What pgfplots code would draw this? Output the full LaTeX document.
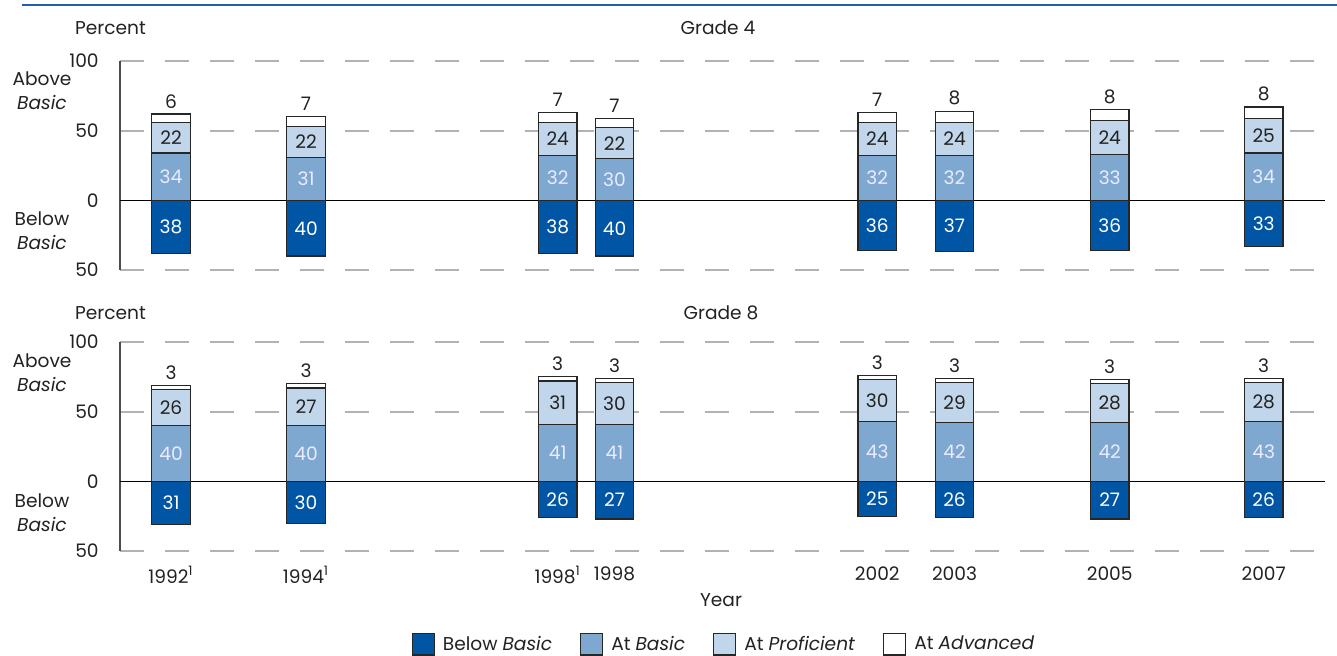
\documentclass[border=0pt]{standalone}
\usepackage{pgfplots}
\pgfplotsset{compat=1.18}
\usepackage{pgfplotstable}
\usepackage{fontspec}
\setmainfont{Poppins}

\definecolor{belowc}{HTML}{0055A4}
\definecolor{basicc}{HTML}{7FA8D1}
\definecolor{profc}{HTML}{C2D6EB}
\definecolor{rulec}{HTML}{1F5FAD}
\definecolor{txt}{HTML}{222222}

% x = bar centre in picture pixels; below is drawn downwards
\pgfplotstableread{
x     below basic prof adv
171   -38   34    22   6
306   -40   31    22   7
557.7 -38   32    24   7
614.5 -40   30    22   7
877.3 -36   32    24   7
954.5 -37   32    24   8
1109.7 -36  33    24   8
1263.7 -33  34    25   8
}\gradefour

\pgfplotstableread{
x     below basic prof adv
171   -31   40    26   3
306   -30   40    27   3
557.7 -26   41    31   3
614.5 -27   41    30   3
877.3 -25   43    30   3
954.5 -26   42    29   3
1109.7 -27  42    28   3
1263.7 -26  43    28   3
}\gradeeight

\pgfplotsset{
  base/.style={
    x=0.5pt, y=0.6967pt,
    xmin=120, xmax=1325, ymin=-50, ymax=100,
    bar width=38.5, clip=false,
    tick style={draw=none},
    every axis plot/.append style={draw=black!85, line width=0.6pt},
    nodes near coords style={font=\fontsize{9.3}{11}\selectfont},
    point meta=explicit symbolic,
    /pgf/number format/assume math mode=true,
  },
  frame/.style={
    base, ybar, bar shift=0pt,
    axis lines=left,
    x axis line style={draw=none},
    y axis line style={-, draw=black!70, line width=0.6pt},
    ytick={-50,50,100}, yticklabels={50,50,100},
    extra y ticks={0}, extra y tick labels={0},
    extra y tick style={grid=major, major grid style={solid, draw=black, line width=0.5pt}},
    ymajorgrids,
    major grid style={draw=black!30, line width=0.9pt, dash pattern=on 12pt off 10.5pt},
    yticklabel style={font=\fontsize{9.3}{11}\selectfont, text=txt, xshift=-5pt},
    xtick=\empty,
  },
  stack/.style={
    base, ybar stacked,
    axis lines=none, xtick=\empty, ytick=\empty,
  },
  % below bars: node sits at the bar's end, move it to the middle
  mid/.style={
    nodes near coords,
    every node near coord/.append style={anchor=center, yshift={-0.34835pt*(\pgfplotspointmeta)}},
  },
  % stacked segments: node already sits in the middle of the segment
  cen/.style={
    nodes near coords,
    every node near coord/.append style={anchor=center},
  },
  top/.style={
    nodes near coords,
    every node near coord/.append style={anchor=south, text=txt, inner sep=2.6pt,
      yshift={0.34835pt*(\pgfplotspointmeta)}},
  },
}

\newcommand{\drawbelow}[1]{%
  \addplot[fill=belowc, mid, nodes near coords style={text=white},
    nodes near coords={\pgfmathparse{abs(\pgfplotspointmeta)}\pgfmathprintnumber{\pgfmathresult}}]
    table[x=x, y=below, meta=below] {#1};
}
\newcommand{\drawabove}[1]{%
  \addplot[fill=basicc, cen, nodes near coords style={text=white!92!blue}]
    table[x=x, y=basic, meta=basic] {#1};
  \addplot[fill=profc, cen, nodes near coords style={text=txt}]
    table[x=x, y=prof, meta=prof] {#1};
  \addplot[fill=white, top]
    table[x=x, y=adv, meta=adv] {#1};
}

\begin{document}
\begin{tikzpicture}
\useasboundingbox (0,0) rectangle (668.5pt,328pt);

% Grade 4
\begin{axis}[frame, at={(60pt,193pt)}, anchor=south west]
\drawbelow{\gradefour}
\end{axis}
\begin{axis}[stack, at={(60pt,193pt)}, anchor=south west]
\drawabove{\gradefour}
\end{axis}

% Grade 8
\begin{axis}[frame, at={(60pt,52.5pt)}, anchor=south west,
  xtick={171,306,557.7,614.5,877.3,954.5,1109.7,1263.7},
  xticklabels={1992\textsuperscript{1},1994\textsuperscript{1},1998\textsuperscript{1},1998,2002,2003,2005,2007},
  xticklabel style={font=\fontsize{9.3}{11}\selectfont, text=txt, yshift=-2pt},
]
\drawbelow{\gradeeight}
\end{axis}
\begin{axis}[stack, at={(60pt,52.5pt)}, anchor=south west,
  legend columns=4,
  legend style={at={(0.502,-0.447)}, anchor=center, draw=none, fill=none,
    font=\fontsize{9.3}{11}\selectfont, text=txt,
    /tikz/every odd column/.append style={column sep=2pt},
    /tikz/every even column/.append style={column sep=12pt}},
  legend image code/.code={\draw[#1, draw=black!85, line width=0.6pt] (0pt,-5.3pt) rectangle (11pt,5.3pt);},
]
\addlegendimage{fill=belowc}
\addlegendentry{Below \textit{Basic}}
\drawabove{\gradeeight}
\addlegendentry{At \textit{Basic}}
\addlegendentry{At \textit{Proficient}}
\addlegendentry{At \textit{Advanced}}
\end{axis}

\begin{scope}[x=0.5pt, y=-0.5pt, shift={(0,328pt)}, font=\fontsize{9.3}{11}\selectfont, text=txt]
  \draw[rulec, line width=1.3pt] (22,5) -- (1337,5);
  \node[anchor=west] at (68,28) {Percent};
  \node at (718,28) {Grade 4};
  \node[anchor=west] at (68,313) {Percent};
  \node at (721,313) {Grade 8};
  \foreach \yy in {0,282} {
    \node[align=center, inner sep=0pt] at (42,91+\yy) {Above\\[0.8pt]\textit{Basic}};
    \node[align=center, inner sep=0pt] at (42,231+\yy) {Below\\[0.8pt]\textit{Basic}};
  }
  \node at (721,600) {Year};
\end{scope}
\end{tikzpicture}
\end{document}
